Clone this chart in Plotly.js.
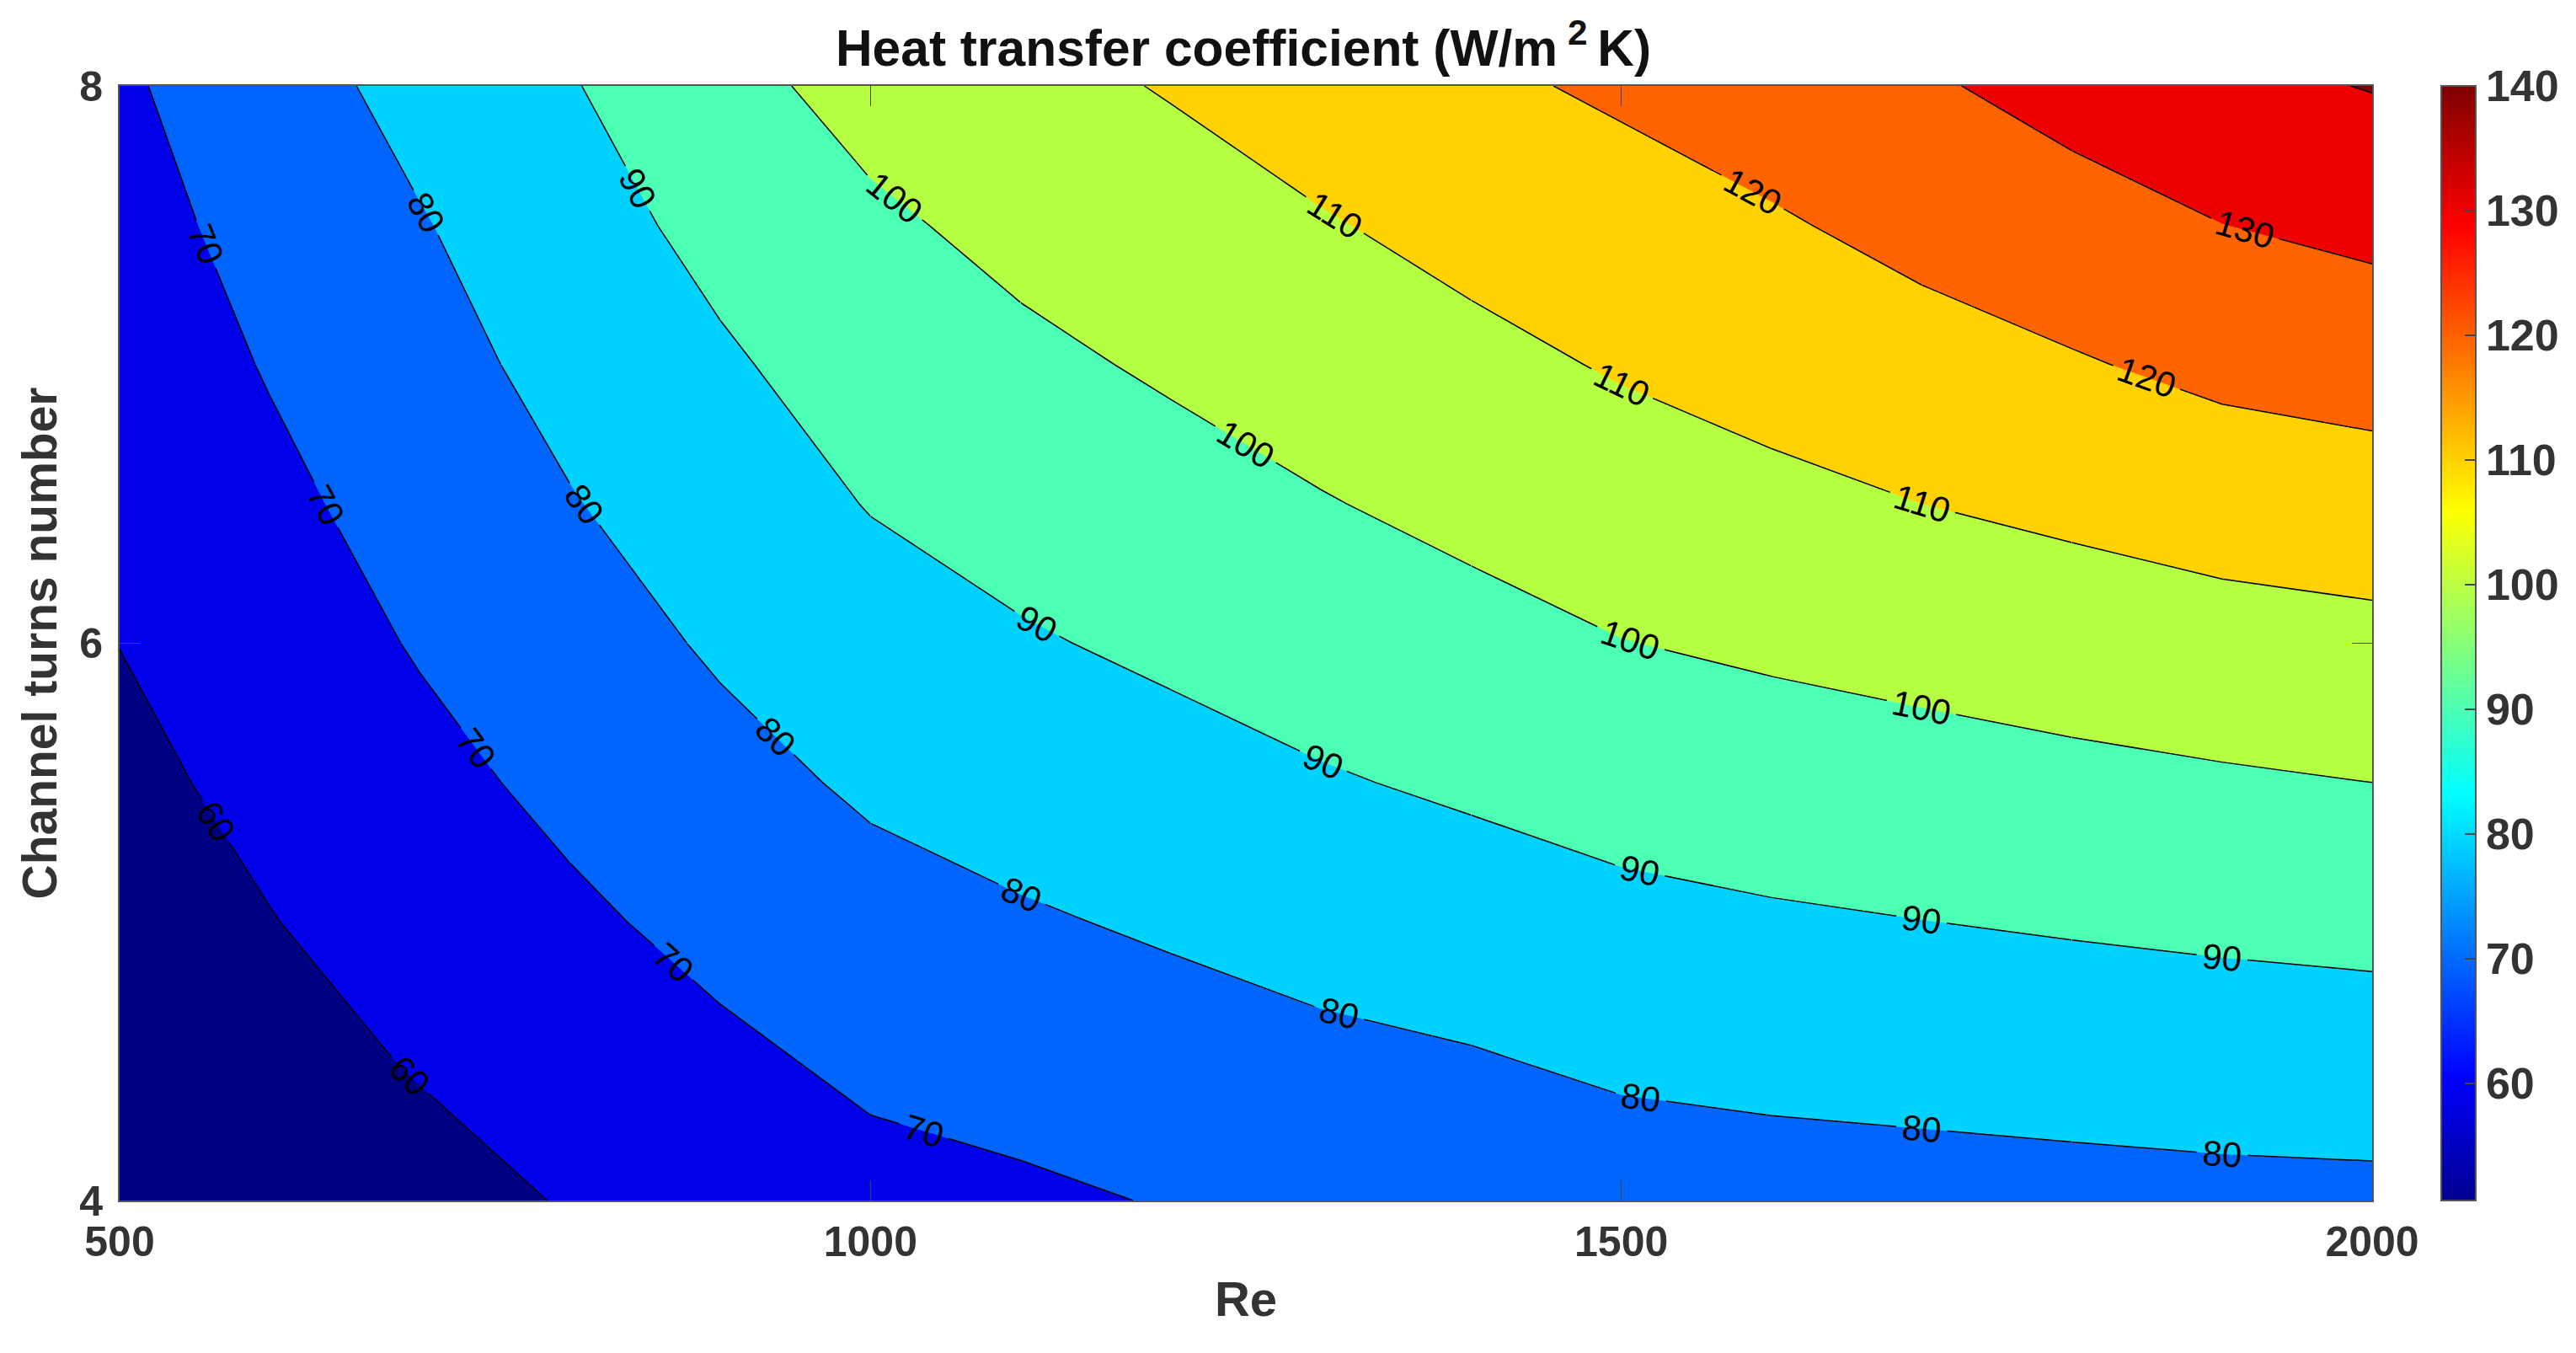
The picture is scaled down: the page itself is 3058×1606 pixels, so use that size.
<!DOCTYPE html>
<html><head><meta charset="utf-8">
<script src="https://cdn.plot.ly/plotly-3.0.1.min.js"></script>
<style>html,body{margin:0;padding:0;background:#fff}</style></head>
<body><div id="chart" style="width:3058px;height:1606px"></div>
<script>
const reynolds = [500,600,700,800,900,1000,1100,1200,1300,1400,1500,1600,1700,1800,1900,2000];
const turns = [4,4.5,5,5.5,6,6.5,7,7.5,8];
const htc_4   = [51,54.5,57.2,60.5,64.4,67.3,68.5,70.5,72.6,73.4,75.3,76.1,76.6,77.1,77.6,77.9];
const htc_4_5 = [53.3,57.0,60.6,64.4,68.2,71.7,73.7,75.9,77.9,79.3,81.5,82.5,83.2,84.0,84.8,85.3];
const htc_5   = [55.5,59.7,64.0,68.4,72.6,76.6,79.0,81.2,83.5,85.4,87.6,88.9,89.9,90.9,91.8,92.6];
const htc_5_5 = [57.8,62.4,67.4,72.2,77.0,81.4,84.1,86.6,89.2,91.4,93.7,95.2,96.4,97.7,98.9,100];
const htc_6   = [60.1,65.2,70.7,75.8,81.2,85.9,89.1,91.7,94.4,97.0,99.8,101.5,103.1,104.8,106.4,107.5];
const htc_6_5 = [62.2,67.9,73.6,79.5,85.0,90.4,93.6,96.4,99.5,102.4,105.3,107.7,110.0,112.0,114.2,115.6];
const htc_7   = [64.4,70.6,76.5,83.0,88.7,94.4,98.0,101.2,104.4,107.6,110.8,113.5,116.4,119.2,122.3,124];
const htc_7_5 = [66.5,73.2,79.4,86.1,92.8,98.4,102.5,105.9,109.3,112.8,116.0,119.0,122.7,126.2,129.9,132.3];
const htc_8   = [68.6,75.9,83.0,89.4,97.1,103.2,107.2,110.6,114.7,118.3,121.4,124.9,128.8,133.3,137.6,140.4];
const htc = [htc_4,htc_4_5,htc_5,htc_5_5,htc_6,htc_6_5,htc_7,htc_7_5,htc_8];
const xTicks = [500,1000,1500,2000];
const yTicks = [4,6,8];
const cbTicks = [60,70,80,90,100,110,120,130,140];
const bandColors = ['#000082','#0000eb','#0064ff','#00d2ff','#4bffb4','#b4ff41','#ffd200','#ff6400','#ee0000','#800000'];
const jet = [[0,'#00008f'],[0.111,'#0000ff'],[0.365,'#00ffff'],[0.619,'#ffff00'],[0.873,'#ff0000'],[1,'#800000']];

// Each contour line is cut along grid columns (c) or rows (r) so its labels fall where the reference has them.
const levels = [60,70,80,90,100,110,120,130,140];
const cuts = {
  60:['r3'], 70:['r6','r4','c3','r1'], 80:['r6','r4','c5','c7','c9','c11','c13'],
  90:['c4','c5','c7','c9','c11','c13'], 100:['c6','c9','c11','c13'], 110:['c9','c11','c13'],
  120:['c12'], 130:['c13'], 140:[]
};
const labelCounts = {
  60:[0,2], 70:[1,1,1,1,1], 80:[1,1,1,1,1,1,1,1],
  90:[1,1,1,1,1,1,1], 100:[1,1,1,1,1], 110:[1,1,1,1],
  120:[1,2], 130:[0,1], 140:[0]
};
const denseLevelCount = 157;

const font = 'Liberation Sans, Arial, sans-serif';
const W=3058,H=1606,L=142,R=2816,T=102,B=1425,CB=2898;
const axisColor='#555';
const tickFont={family:font,size:50,color:'#333',weight:700};

function piece(level,startCut,endCut,count){
  let c0=0,c1=reynolds.length-1,r0=0,r1=turns.length-1;
  if(startCut){const n=+startCut.slice(1); if(startCut[0]==='c')c0=n; else r1=n;}
  if(endCut){const n=+endCut.slice(1); if(endCut[0]==='c')c1=n; else r0=n;}
  const size=1000;
  return {type:'contour',x:reynolds.slice(c0,c1+1),y:turns.slice(r0,r1+1),
    z:htc.slice(r0,r1+1).map(row=>row.slice(c0,c1+1)),autocontour:false,showscale:false,hoverinfo:'skip',
    contours:{start:level,end:count>1?level+size*denseLevelCount:level,size:size,coloring:'none',showlines:true,
      showlabels:count>0,labelformat:'d',labelfont:{family:font,size:42,color:'#000'}},
    line:{color:'#000',width:1.5,smoothing:0}};
}
const lineTraces=[];
levels.forEach(level=>{
  const c=cuts[level];
  labelCounts[level].forEach((n,i)=>lineTraces.push(piece(level,i?c[i-1]:null,i<c.length?c[i]:null,n)));
});

const traces=[
 {type:'heatmap',x:reynolds,y:turns,z:htc,zmin:50.6,zmax:140,colorscale:jet,hoverinfo:'skip',
  colorbar:{thicknessmode:'pixels',thickness:41,lenmode:'pixels',len:B-T,x:(CB-L)/(R-L),xanchor:'left',xpad:0,
    y:1,yanchor:'top',ypad:0,tickmode:'array',tickvals:cbTicks,ticks:'inside',ticklen:14,tickcolor:'#444',tickwidth:1.5,
    outlinecolor:axisColor,outlinewidth:2,tickfont:{family:font,size:52,color:'#333',weight:700}}},
 {type:'contour',x:reynolds,y:turns,z:htc,autocontour:false,showscale:false,hoverinfo:'skip',
  contours:{start:60,end:140,size:10,coloring:'fill',showlines:false},
  colorscale:bandColors.map((c,i)=>[i/(bandColors.length-1),c]),
  line:{width:0,smoothing:0}},
 ...lineTraces
];
const layout={
 width:W,height:H,paper_bgcolor:'#fff',plot_bgcolor:'#fff',
 margin:{l:L,r:W-R,t:T,b:H-B,pad:0,autoexpand:false},showlegend:false,
 title:{text:'Heat transfer coefficient (W/m<sup> 2 </sup>K)',font:{family:font,size:60.5,color:'#111',weight:700},
   x:1476/W,xanchor:'center',y:1-57/H,yanchor:'middle',xref:'container',yref:'container'},
 xaxis:{range:[500,2000],tickmode:'array',tickvals:xTicks,ticks:'inside',ticklen:24,tickcolor:'#444',tickwidth:1.5,
   showline:true,mirror:'ticks',linecolor:axisColor,linewidth:2,showgrid:false,zeroline:false,tickfont:tickFont,ticklabelstandoff:4,
   title:{text:'Re',font:{family:font,size:58,color:'#333',weight:700},standoff:20}},
 yaxis:{range:[4,8],tickmode:'array',tickvals:yTicks,ticks:'inside',ticklen:24,tickcolor:'#444',tickwidth:1.5,
   showline:true,mirror:'ticks',linecolor:axisColor,linewidth:2,showgrid:false,zeroline:false,tickfont:tickFont,ticklabelstandoff:8,
   title:{text:'Channel turns number',font:{family:font,size:57,color:'#333',weight:700},standoff:8}}
};
Plotly.newPlot('chart',traces,layout,{displayModeBar:false,staticPlot:true});
</script></body></html>
